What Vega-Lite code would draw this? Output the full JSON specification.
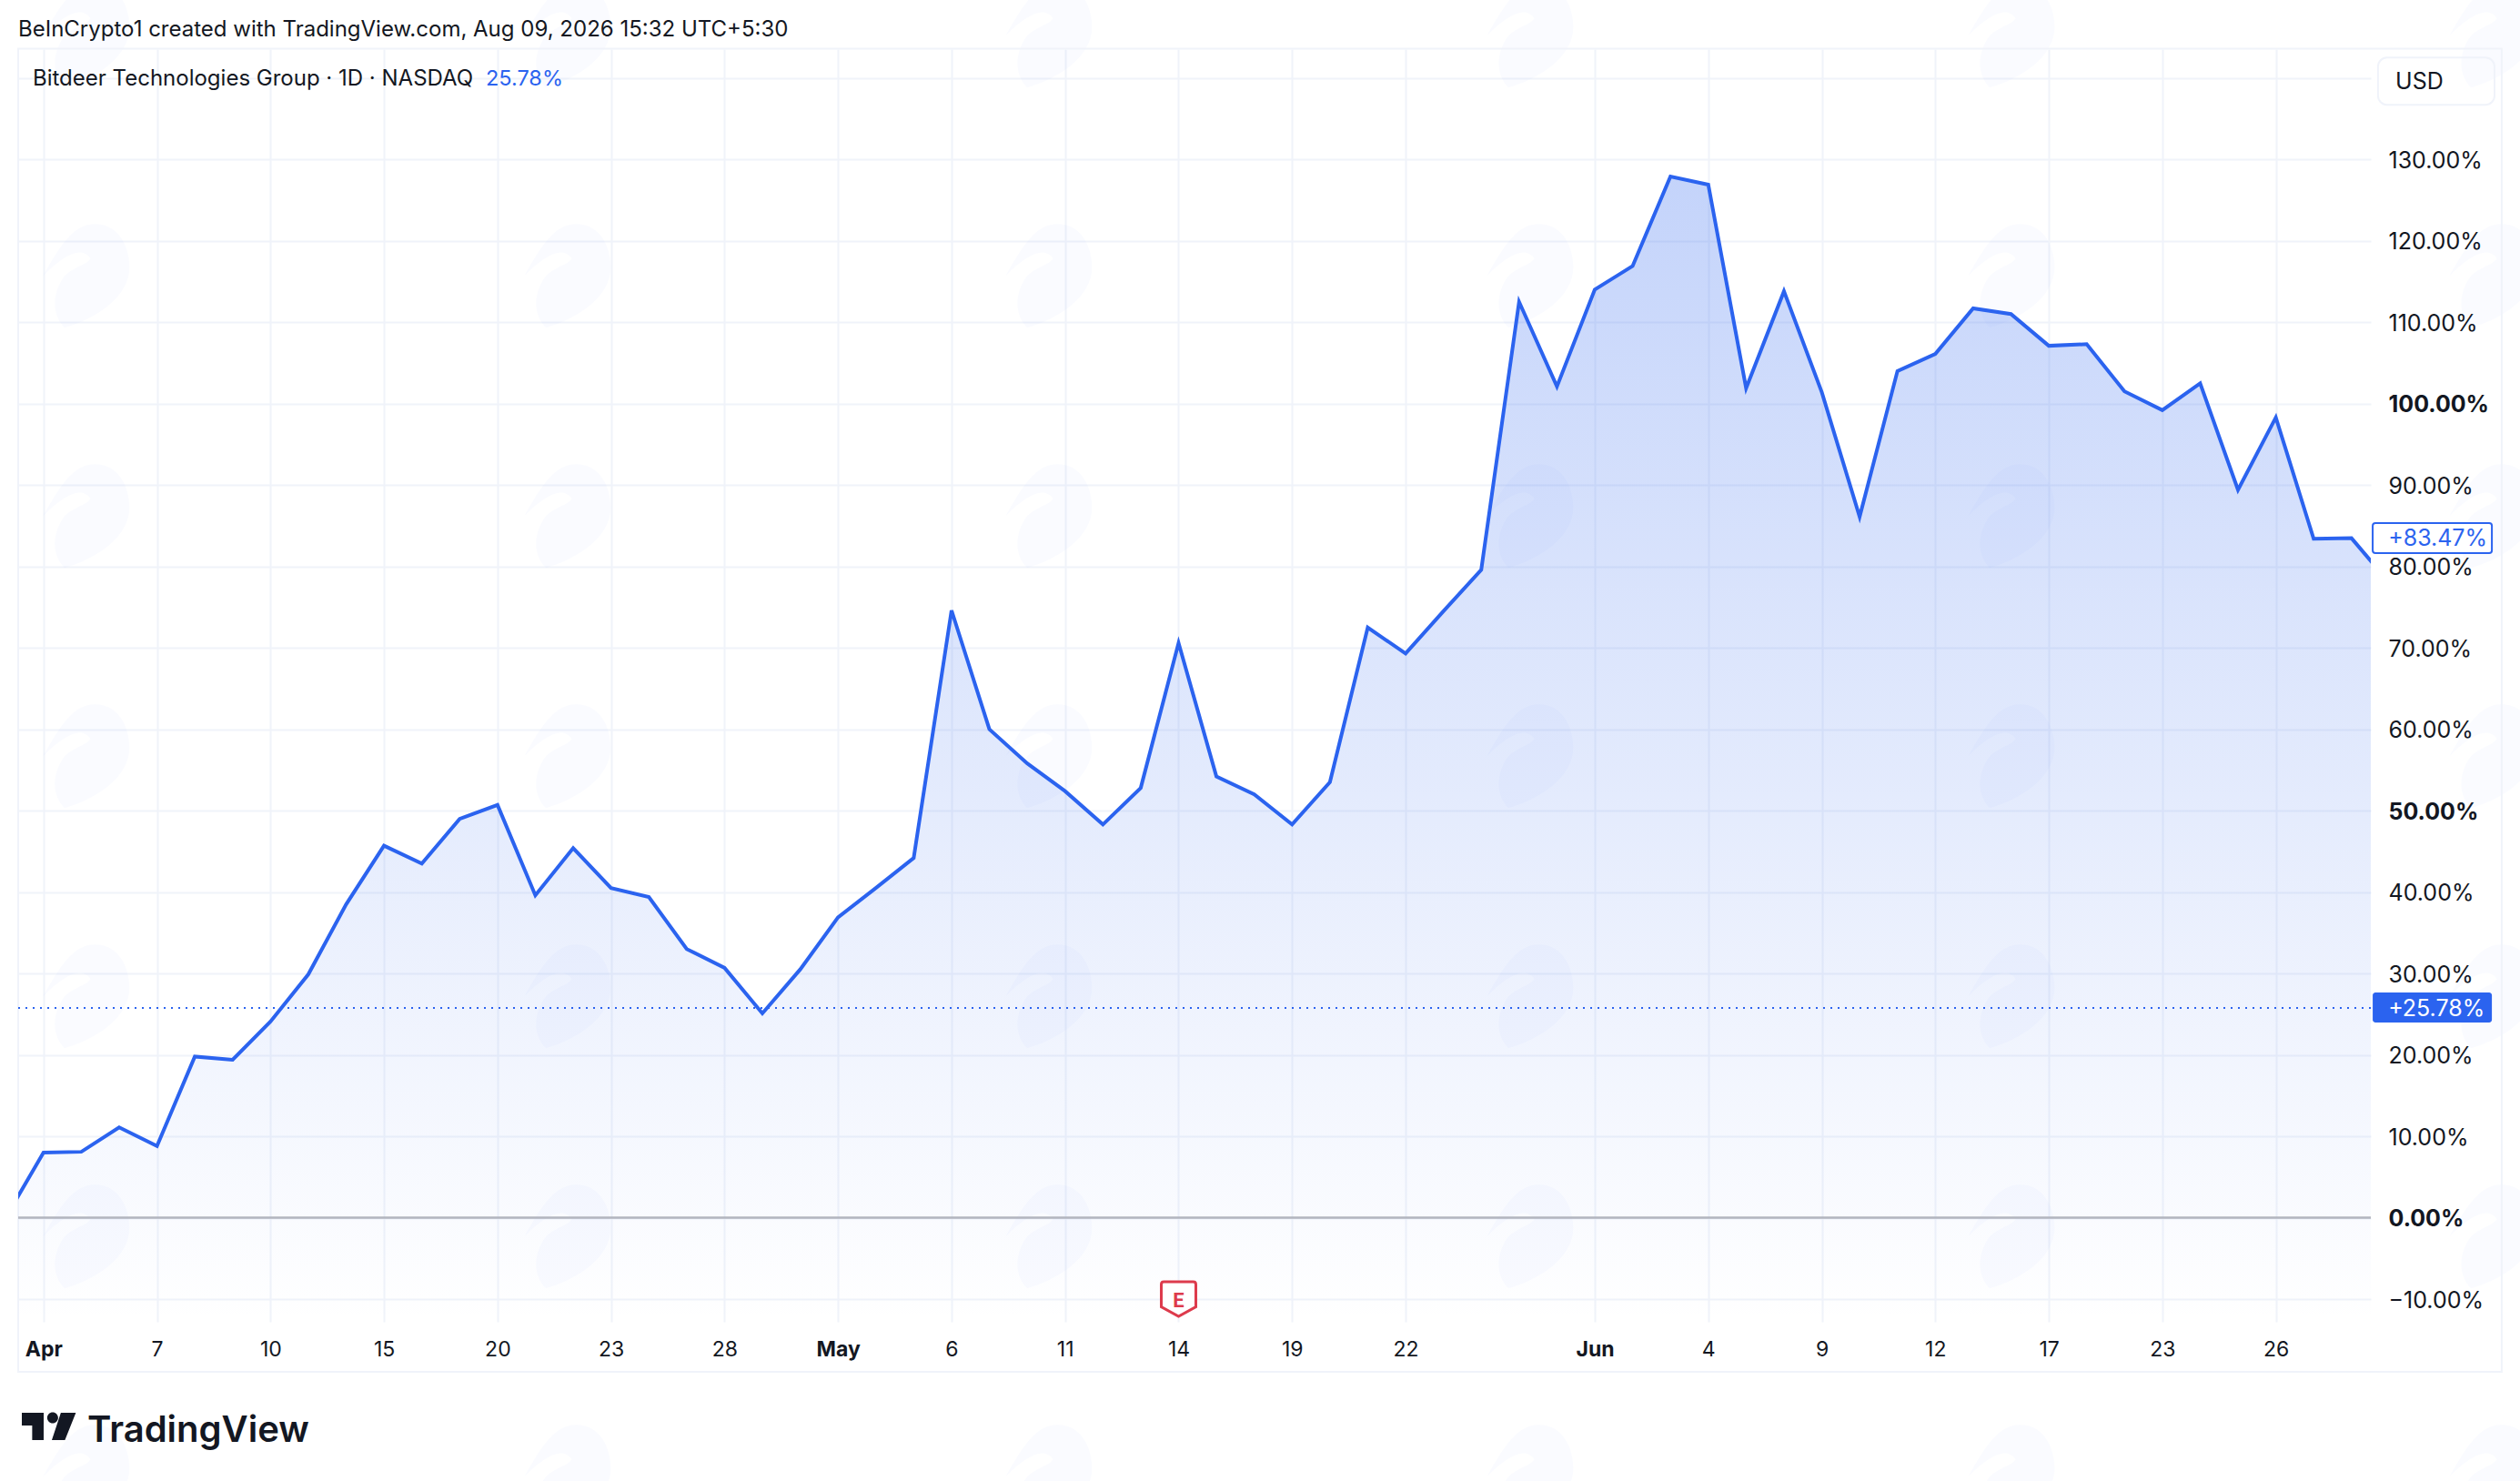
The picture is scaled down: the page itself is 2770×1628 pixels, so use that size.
{
  "$schema": "https://vega.github.io/schema/vega-lite/v6.json",
  "description": "Bitdeer Technologies Group daily percent change, TradingView style area chart.",
  "background": "white",
  "width": 2586,
  "height": 1399,
  "autosize": {"type": "none"},
  "padding": {"left": 20, "top": 54, "right": 164, "bottom": 175},
  "config": {"view": {"stroke": null}, "font": "Inter", "text": {"font": "Inter"}},
  "datasets": {
    "prices": [
      {"session": -1, "date": "2026-03-31", "pct": 0.0},
      {"session": 0, "date": "2026-04-01", "pct": 8.0},
      {"session": 1, "date": "2026-04-02", "pct": 8.1},
      {"session": 2, "date": "2026-04-06", "pct": 11.1},
      {"session": 3, "date": "2026-04-07", "pct": 8.8},
      {"session": 4, "date": "2026-04-08", "pct": 19.8},
      {"session": 5, "date": "2026-04-09", "pct": 19.4},
      {"session": 6, "date": "2026-04-10", "pct": 24.1},
      {"session": 7, "date": "2026-04-13", "pct": 29.9},
      {"session": 8, "date": "2026-04-14", "pct": 38.5},
      {"session": 9, "date": "2026-04-15", "pct": 45.7},
      {"session": 10, "date": "2026-04-16", "pct": 43.5},
      {"session": 11, "date": "2026-04-17", "pct": 49.0},
      {"session": 12, "date": "2026-04-20", "pct": 50.7},
      {"session": 13, "date": "2026-04-21", "pct": 39.6},
      {"session": 14, "date": "2026-04-22", "pct": 45.4},
      {"session": 15, "date": "2026-04-23", "pct": 40.5},
      {"session": 16, "date": "2026-04-24", "pct": 39.4},
      {"session": 17, "date": "2026-04-27", "pct": 33.0},
      {"session": 18, "date": "2026-04-28", "pct": 30.7},
      {"session": 19, "date": "2026-04-29", "pct": 25.1},
      {"session": 20, "date": "2026-04-30", "pct": 30.5},
      {"session": 21, "date": "2026-05-01", "pct": 36.9},
      {"session": 22, "date": "2026-05-04", "pct": 40.5},
      {"session": 23, "date": "2026-05-05", "pct": 44.2},
      {"session": 24, "date": "2026-05-06", "pct": 74.6},
      {"session": 25, "date": "2026-05-07", "pct": 60.0},
      {"session": 26, "date": "2026-05-08", "pct": 55.8},
      {"session": 27, "date": "2026-05-11", "pct": 52.4},
      {"session": 28, "date": "2026-05-12", "pct": 48.3},
      {"session": 29, "date": "2026-05-13", "pct": 52.8},
      {"session": 30, "date": "2026-05-14", "pct": 70.6},
      {"session": 31, "date": "2026-05-15", "pct": 54.2},
      {"session": 32, "date": "2026-05-18", "pct": 52.0},
      {"session": 33, "date": "2026-05-19", "pct": 48.3},
      {"session": 34, "date": "2026-05-20", "pct": 53.5},
      {"session": 35, "date": "2026-05-21", "pct": 72.5},
      {"session": 36, "date": "2026-05-22", "pct": 69.3},
      {"session": 37, "date": "2026-05-26", "pct": 74.5},
      {"session": 38, "date": "2026-05-27", "pct": 79.6},
      {"session": 39, "date": "2026-05-28", "pct": 112.5},
      {"session": 40, "date": "2026-05-29", "pct": 102.1},
      {"session": 41, "date": "2026-06-01", "pct": 114.0},
      {"session": 42, "date": "2026-06-02", "pct": 116.9},
      {"session": 43, "date": "2026-06-03", "pct": 127.9},
      {"session": 44, "date": "2026-06-04", "pct": 126.9},
      {"session": 45, "date": "2026-06-05", "pct": 101.9},
      {"session": 46, "date": "2026-06-08", "pct": 113.8},
      {"session": 47, "date": "2026-06-09", "pct": 101.4},
      {"session": 48, "date": "2026-06-10", "pct": 86.1},
      {"session": 49, "date": "2026-06-11", "pct": 104.0},
      {"session": 50, "date": "2026-06-12", "pct": 106.1},
      {"session": 51, "date": "2026-06-15", "pct": 111.7},
      {"session": 52, "date": "2026-06-16", "pct": 111.0},
      {"session": 53, "date": "2026-06-17", "pct": 107.1},
      {"session": 54, "date": "2026-06-18", "pct": 107.3},
      {"session": 55, "date": "2026-06-22", "pct": 101.5},
      {"session": 56, "date": "2026-06-23", "pct": 99.2},
      {"session": 57, "date": "2026-06-24", "pct": 102.5},
      {"session": 58, "date": "2026-06-25", "pct": 89.4},
      {"session": 59, "date": "2026-06-26", "pct": 98.3},
      {"session": 60, "date": "2026-06-29", "pct": 83.4},
      {"session": 61, "date": "2026-06-30", "pct": 83.47},
      {"session": 62, "date": "2026-07-01", "pct": 78.0}
    ],
    "watermarks": [
      {"session": 1.13, "pct": 145.2}, {"session": 13.85, "pct": 145.2}, {"session": 26.57, "pct": 145.2}, {"session": 39.29, "pct": 145.2}, {"session": 52.01, "pct": 145.2}, {"session": 64.73, "pct": 145.2},
      {"session": 1.13, "pct": 115.7}, {"session": 13.85, "pct": 115.7}, {"session": 26.57, "pct": 115.7}, {"session": 39.29, "pct": 115.7}, {"session": 52.01, "pct": 115.7}, {"session": 64.73, "pct": 115.7},
      {"session": 1.13, "pct": 86.2}, {"session": 13.85, "pct": 86.2}, {"session": 26.57, "pct": 86.2}, {"session": 39.29, "pct": 86.2}, {"session": 52.01, "pct": 86.2}, {"session": 64.73, "pct": 86.2},
      {"session": 1.13, "pct": 56.7}, {"session": 13.85, "pct": 56.7}, {"session": 26.57, "pct": 56.7}, {"session": 39.29, "pct": 56.7}, {"session": 52.01, "pct": 56.7}, {"session": 64.73, "pct": 56.7},
      {"session": 1.13, "pct": 27.2}, {"session": 13.85, "pct": 27.2}, {"session": 26.57, "pct": 27.2}, {"session": 39.29, "pct": 27.2}, {"session": 52.01, "pct": 27.2}, {"session": 64.73, "pct": 27.2},
      {"session": 1.13, "pct": -2.3}, {"session": 13.85, "pct": -2.3}, {"session": 26.57, "pct": -2.3}, {"session": 39.29, "pct": -2.3}, {"session": 52.01, "pct": -2.3}, {"session": 64.73, "pct": -2.3},
      {"session": 1.13, "pct": -31.8}, {"session": 13.85, "pct": -31.8}, {"session": 26.57, "pct": -31.8}, {"session": 39.29, "pct": -31.8}, {"session": 52.01, "pct": -31.8}, {"session": 64.73, "pct": -31.8}
    ],
    "notes": [
      {"session": -0.668, "pct": 145.9, "label": "BeInCrypto1 created with TradingView.com, Aug 09, 2026 15:32 UTC+5:30"},
      {"session": -0.284, "pct": 139.9, "label": "Bitdeer Technologies Group · 1D · NASDAQ"}
    ]
  },
  "encoding": {
    "x": {
      "field": "session",
      "type": "quantitative",
      "title": null,
      "scale": {"domain": [-0.668, 61.51], "nice": false, "zero": false},
      "axis": {
        "values": [0, 3, 6, 9, 12, 15, 18, 21, 24, 27, 30, 33, 36, 41, 44, 47, 50, 53, 56, 59],
        "labelExpr": "{'0':'Apr','3':'7','6':'10','9':'15','12':'20','15':'23','18':'28','21':'May','24':'6','27':'11','30':'14','33':'19','36':'22','41':'Jun','44':'4','47':'9','50':'12','53':'17','56':'23','59':'26'}[datum.value]",
        "domain": false,
        "ticks": false,
        "grid": true,
        "gridColor": "#f0f3fa",
        "gridWidth": 2,
        "labelFont": "Inter",
        "labelFontSize": 23,
        "labelColor": "#131722",
        "labelFontWeight": {"condition": {"test": "datum.value == 0 || datum.value == 21 || datum.value == 41", "value": "bold"}, "value": "normal"},
        "labelBaseline": "middle",
        "labelPadding": 30,
        "labelOverlap": false,
        "labelFlush": false
      }
    },
    "y": {
      "field": "pct",
      "type": "quantitative",
      "title": null,
      "scale": {"domain": [-12.78, 143.54], "nice": false, "zero": false},
      "axis": {
        "orient": "right",
        "values": [-10, 0, 10, 20, 30, 40, 50, 60, 70, 80, 90, 100, 110, 120, 130, 140],
        "labelExpr": "datum.value == 140 ? '' : (datum.value < 0 ? '−' : '') + format(abs(datum.value), '.2f') + '%'",
        "domain": false,
        "ticks": false,
        "grid": true,
        "gridColor": "#f0f3fa",
        "gridWidth": 2,
        "labelFont": "Inter",
        "labelFontSize": 25,
        "labelColor": "#131722",
        "labelFontWeight": {"condition": {"test": "datum.value == 0 || datum.value == 50 || datum.value == 100", "value": "bold"}, "value": "normal"},
        "labelAlign": "left",
        "labelBaseline": "middle",
        "labelPadding": 19,
        "labelOffset": 1,
        "labelOverlap": false,
        "labelFlush": false
      }
    }
  },
  "layer": [
    {
      "data": {"name": "watermarks"},
      "mark": {
        "type": "point",
        "filled": true,
        "size": 9025,
        "color": "#2b63ef",
        "opacity": 0.025,
        "shape": "M-1,0 C-0.6,-0.7 -0.3,-1.2 0.2,-1.2 C0.8,-1.2 1,-0.6 1,-0.2 C1,0.5 0.2,1 -0.5,1.2 C-0.8,0.9 -0.8,0.4 -0.5,0 C-0.3,-0.2 0,-0.25 0.1,-0.4 C-0.1,-0.7 -0.5,-0.5 -1,0 Z"
      }
    },
    {
      "data": {"values": [{"session": -0.668, "session2": 64.97, "pct": 143.6, "pct2": -18.92}]},
      "mark": {"type": "rect", "fill": null, "stroke": "#f0f3fa", "strokeWidth": 2},
      "encoding": {"x2": {"field": "session2"}, "y2": {"field": "pct2"}}
    },
    {
      "data": {"name": "prices"},
      "mark": {
        "type": "area",
        "clip": true,
        "line": false,
        "color": {
          "gradient": "linear",
          "x1": 0, "y1": 0, "x2": 0, "y2": 1,
          "stops": [
            {"offset": 0, "color": "rgba(43,99,239,0.28)"},
            {"offset": 1, "color": "rgba(43,99,239,0)"}
          ]
        }
      },
      "encoding": {"y2": {"datum": -12.78}}
    },
    {
      "data": {"values": [{"pct": 0}]},
      "mark": {"type": "rule", "color": "#b2b5be", "strokeWidth": 2.5},
      "encoding": {"x": null}
    },
    {
      "data": {"values": [{"pct": 25.78}]},
      "mark": {"type": "rule", "color": "#2b63ef", "strokeWidth": 2, "strokeDash": [2, 6]},
      "encoding": {"x": null}
    },
    {
      "data": {"name": "prices"},
      "mark": {"type": "line", "clip": true, "color": "#2b63ef", "strokeWidth": 4, "strokeJoin": "miter"}
    },
    {
      "data": {"values": [{"session": 61.7, "session2": 64.78, "pct": 142.5, "pct2": 136.7}]},
      "mark": {"type": "rect", "fill": "transparent", "stroke": "#f0f3fa", "strokeWidth": 2, "cornerRadius": 10},
      "encoding": {"x2": {"field": "session2"}, "y2": {"field": "pct2"}}
    },
    {
      "data": {"values": [{"session": 61.56, "session2": 64.71, "pct": 85.33, "pct2": 81.64}]},
      "mark": {"type": "rect", "fill": "white", "stroke": "#2b63ef", "strokeWidth": 2, "cornerRadius": 3},
      "encoding": {"x2": {"field": "session2"}, "y2": {"field": "pct2"}}
    },
    {
      "data": {"values": [{"session": 61.56, "session2": 64.71, "pct": 27.67, "pct2": 23.99}]},
      "mark": {"type": "rect", "fill": "#2b63ef", "cornerRadius": 3},
      "encoding": {"x2": {"field": "session2"}, "y2": {"field": "pct2"}}
    },
    {
      "data": {"name": "notes"},
      "mark": {"type": "text", "align": "left", "baseline": "middle", "font": "Inter", "fontSize": 24, "color": "#131722"},
      "encoding": {"text": {"field": "label"}}
    },
    {
      "data": {"values": [{"session": 62.16, "pct": 139.5, "label": "USD"}]},
      "mark": {"type": "text", "align": "left", "baseline": "middle", "font": "Inter", "fontSize": 25, "color": "#131722"},
      "encoding": {"text": {"field": "label"}}
    },
    {
      "data": {"values": [{"session": 11.69, "pct": 139.9, "label": "25.78%"}]},
      "mark": {"type": "text", "align": "left", "baseline": "middle", "font": "Inter", "fontSize": 23.5, "color": "#2b63ef"},
      "encoding": {"text": {"field": "label"}}
    },
    {
      "data": {"values": [{"session": 61.97, "pct": 83.37, "label": "+83.47%"}]},
      "mark": {"type": "text", "align": "left", "baseline": "middle", "font": "Inter", "fontSize": 25, "color": "#2b63ef"},
      "encoding": {"text": {"field": "label"}}
    },
    {
      "data": {"values": [{"session": 61.97, "pct": 25.68, "label": "+25.78%"}]},
      "mark": {"type": "text", "align": "left", "baseline": "middle", "font": "Inter", "fontSize": 25, "color": "white"},
      "encoding": {"text": {"field": "label"}}
    },
    {
      "data": {"values": [{"session": 30, "pct": -10}]},
      "mark": {
        "type": "point",
        "filled": false,
        "size": 1444,
        "fill": "white",
        "fillOpacity": 1,
        "stroke": "#dd3b4c",
        "strokeWidth": 3,
        "opacity": 1,
        "shape": "M-0.85,-1 L0.85,-1 Q1,-1 1,-0.85 L1,0.45 L0,1 L-1,0.45 L-1,-0.85 Q-1,-1 -0.85,-1 Z"
      }
    },
    {
      "data": {"values": [{"session": 30, "pct": -10.2, "label": "E"}]},
      "mark": {"type": "text", "align": "center", "baseline": "middle", "font": "Roboto", "fontWeight": "bold", "fontSize": 22, "color": "#dd3b4c"},
      "encoding": {"text": {"field": "label"}}
    },
    {
      "data": {"values": [{"session": 0.149, "pct": -25.62}]},
      "mark": {
        "type": "point",
        "filled": true,
        "size": 3600,
        "color": "#131722",
        "opacity": 1,
        "shape": "M-1,-0.5 L-0.2,-0.5 L-0.2,0.5 L-0.62,0.5 L-0.62,-0.03 L-1,-0.03 Z M-0.07,-0.31 A0.2,0.2 0 1 0 0.33,-0.31 A0.2,0.2 0 1 0 -0.07,-0.31 Z M0.43,-0.5 L0.98,-0.5 L0.58,0.5 L0.1,0.5 Z"
      }
    },
    {
      "data": {"values": [{"session": 1.16, "pct": -27.5, "label": "TradingView"}]},
      "mark": {"type": "text", "align": "left", "baseline": "alphabetic", "font": "Inter", "fontWeight": 600, "fontSize": 40, "color": "#131722"},
      "encoding": {"text": {"field": "label"}}
    }
  ]
}
